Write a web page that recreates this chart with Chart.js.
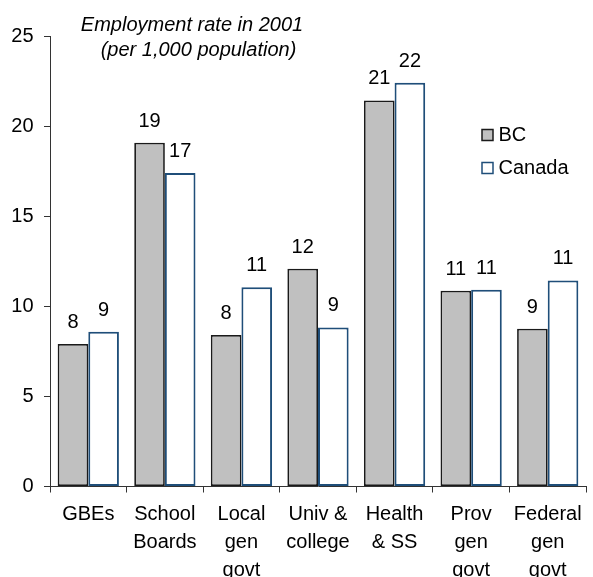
<!DOCTYPE html>
<html>
<head>
<meta charset="utf-8">
<script src="https://cdn.jsdelivr.net/npm/chart.js@4.4.1/dist/chart.umd.min.js"></script>
<style>
  html, body { margin: 0; padding: 0; background: #ffffff; }
  #wrap { width: 593px; height: 577px; }
</style>
</head>
<body>
<div id="wrap"><canvas id="chart" width="593" height="577"></canvas></div>
<script>
// Public-sector employment per 1,000 population, 2001
const categories = [
  ["GBEs"],
  ["School", "Boards"],
  ["Local", "gen", "govt"],
  ["Univ &", "college"],
  ["Health", "& SS"],
  ["Prov", "gen", "govt"],
  ["Federal", "gen", "govt"]
];
const bcRates     = [7.92, 19.1, 8.42, 12.1, 21.45, 10.88, 8.77];
const canadaRates = [8.6, 17.42, 11.07, 8.84, 22.43, 10.93, 11.45];
const seriesNames = ["BC", "Canada"];
const yTicks = [0, 5, 10, 15, 20, 25];
const titleLines = ["Employment rate in 2001", "(per 1,000 population)"];

const FONT = '"Liberation Sans", Arial, sans-serif';

// Rounded value printed above each bar
const valueLabels = {
  id: 'valueLabels',
  afterDatasetsDraw(chart) {
    const ctx = chart.ctx;
    ctx.save();
    ctx.font = '20px ' + FONT;
    ctx.fillStyle = '#000000';
    ctx.textAlign = 'center';
    ctx.textBaseline = 'alphabetic';
    chart.data.datasets.forEach((ds, i) => {
      chart.getDatasetMeta(i).data.forEach((bar, j) => {
        ctx.fillText(String(Math.round(ds.data[j])), bar.x, bar.y - 16);
      });
    });
    ctx.restore();
  }
};

// Italic two-line heading inside the plot area
const heading = {
  id: 'heading',
  afterDraw(chart) {
    const ctx = chart.ctx;
    ctx.save();
    ctx.font = 'italic 20px ' + FONT;
    ctx.fillStyle = '#000000';
    ctx.textAlign = 'center';
    ctx.textBaseline = 'alphabetic';
    ctx.fillText(titleLines[0], 192, 30.5);
    ctx.fillText(titleLines[1], 198.5, 56);
    ctx.restore();
  }
};

// Series key at the right of the plot
const seriesKey = {
  id: 'seriesKey',
  afterDraw(chart) {
    const ctx = chart.ctx;
    ctx.save();
    ctx.font = '20px ' + FONT;
    ctx.textAlign = 'left';
    ctx.textBaseline = 'alphabetic';
    chart.data.datasets.forEach((ds, i) => {
      const base = 140.5 + i * 33;
      const size = 11;
      ctx.fillStyle = ds.backgroundColor;
      ctx.fillRect(482, base - size, size, size);
      ctx.lineWidth = 1.5;
      ctx.strokeStyle = ds.borderColor;
      ctx.strokeRect(482, base - size, size, size);
      ctx.fillStyle = '#000000';
      ctx.fillText(ds.label, 498.5, base);
    });
    ctx.restore();
  }
};

new Chart(document.getElementById('chart'), {
  type: 'bar',
  data: {
    labels: categories,
    datasets: [
      {
        label: seriesNames[0],
        data: bcRates,
        backgroundColor: '#C0C0C0',
        borderColor: '#1a1a1a',
        borderWidth: 1.75,
        borderSkipped: false
      },
      {
        label: seriesNames[1],
        data: canadaRates,
        backgroundColor: '#FFFFFF',
        borderColor: '#1F4E79',
        borderWidth: 2,
        borderSkipped: false
      }
    ]
  },
  options: {
    responsive: false,
    animation: false,
    devicePixelRatio: 1,
    layout: { padding: { top: 36.5, right: 7, bottom: 0, left: 0 } },
    datasets: { bar: { categoryPercentage: 0.8, barPercentage: 1.0 } },
    plugins: {
      legend: { display: false },
      title: { display: false },
      tooltip: { enabled: false }
    },
    scales: {
      x: {
        offset: true,
        grid: {
          offset: true,
          drawOnChartArea: false,
          drawTicks: true,
          tickLength: 6,
          color: '#333333'
        },
        border: { display: true, color: '#333333', width: 1 },
        ticks: {
          color: '#000000',
          padding: 8,
          maxRotation: 0,
          autoSkip: false,
          font: { family: FONT, size: 20, lineHeight: 1.4 }
        },
        afterFit(scale) { scale.height = 90.5; }
      },
      y: {
        min: 0,
        max: 25,
        afterBuildTicks(scale) { scale.ticks = yTicks.map(v => ({ value: v })); },
        grid: {
          drawOnChartArea: false,
          drawTicks: true,
          tickLength: 6,
          color: '#333333'
        },
        border: { display: true, color: '#333333', width: 1 },
        ticks: {
          color: '#000000',
          padding: 10.5,
          font: { family: FONT, size: 20 }
        },
        afterFit(scale) { scale.width = 50; }
      }
    }
  },
  plugins: [valueLabels, heading, seriesKey]
});
</script>
</body>
</html>
